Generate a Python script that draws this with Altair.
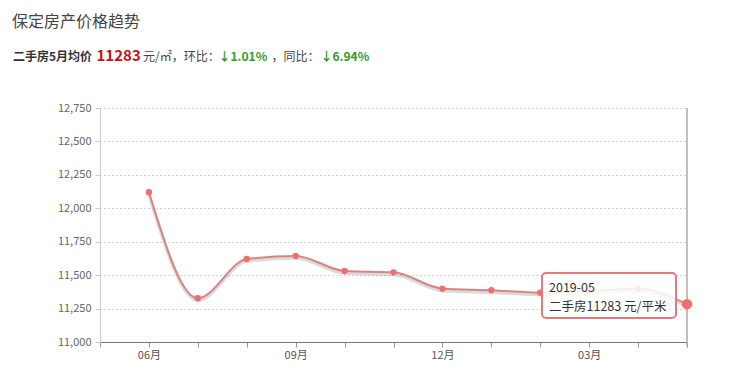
import json
import altair as alt
import pandas as pd

# ---- data ----
months = ["2018-06", "2018-07", "2018-08", "2018-09", "2018-10", "2018-11",
          "2018-12", "2019-01", "2019-02", "2019-03", "2019-04", "2019-05"]
prices = [12120, 11327, 11621, 11643, 11531, 11521, 11399, 11387, 11369, 11380, 11398, 11283]
x_tick_labels = ["", "06月", "", "", "09月", "", "", "12月", "", "", "03月", "", ""]
y_ticks = [11000, 11250, 11500, 11750, 12000, 12250, 12500, 12750]

title_text = "保定房产价格趋势"
header_parts = ["二手房5月均价", "11283", "元/㎡，环比：", "↓1.01%", "，同比：", "↓6.94%"]

df = pd.DataFrame({"month": months, "price": prices, "idx": list(range(1, len(months) + 1))})
last = df.tail(1)

FONT = "Noto Sans CJK SC"
W, H = 587, 234

label_expr = json.dumps(x_tick_labels, ensure_ascii=False) + "[datum.value]"

x_enc = alt.X(
    "idx:Q",
    scale=alt.Scale(domain=[0, len(months)], nice=False, zero=False),
    axis=alt.Axis(values=list(range(len(x_tick_labels))), labelExpr=label_expr, title=None,
                  grid=False, domainColor="#777", tickColor="#999", tickSize=5,
                  labelColor="#555", labelFontSize=11, labelFont=FONT, labelPadding=2,
                  labelFlush=False),
)
y_enc = alt.Y(
    "price:Q",
    scale=alt.Scale(domain=[y_ticks[0], y_ticks[-1]], nice=False, zero=False),
    axis=alt.Axis(values=y_ticks, format=",.0f", title=None, grid=True, gridDash=[1, 3],
                  gridColor="#aaa", domainColor="#ccc", tickColor="#ccc", tickSize=5,
                  labelColor="#666", labelFontSize=11, labelFont=FONT, labelPadding=4),
)

base = alt.Chart(df).encode(x=x_enc, y=y_enc)

shadow = base.mark_line(interpolate="monotone", color="#888", opacity=0.3, strokeWidth=3.5, yOffset=2)
line = base.mark_line(interpolate="monotone", color="#dd8282", strokeWidth=2)
pts = base.mark_point(filled=True, size=40, color="#f26d6d", opacity=1)

pointer = alt.Chart(last).mark_rule(color="#aaa", strokeWidth=1.5).encode(
    x=x_enc, y=alt.value(0), y2=alt.value(H + 4))

last_pt = alt.Chart(last).mark_point(filled=True, size=110, color="#f26d6d", opacity=1).encode(
    x=x_enc, y=y_enc)

tip_box = alt.Chart(last).mark_rect(
    cornerRadius=4, fill="white", fillOpacity=0.85, stroke="#e8787c", strokeWidth=2
).encode(x=alt.value(442), x2=alt.value(576), y=alt.value(165), y2=alt.value(210))

tip1 = alt.Chart(last).mark_text(align="left", baseline="alphabetic", font=FONT, fontSize=12.5,
                                 color="#333").encode(
    x=alt.value(449), y=alt.value(184), text="month:N")
tip_df = pd.DataFrame({"t": ["二手房" + str(prices[-1]) + " 元/平米"]})
tip2 = alt.Chart(tip_df).mark_text(align="left", baseline="alphabetic", font=FONT, fontSize=12.5,
                                   color="#333").encode(
    x=alt.value(449), y=alt.value(203), text="t:N")


def txt(s, x, y, size, color, weight="normal"):
    return alt.Chart(pd.DataFrame({"t": [s]})).mark_text(
        align="left", baseline="alphabetic", font=FONT, fontSize=size, color=color,
        fontWeight=weight).encode(x=alt.value(x), y=alt.value(y), text="t:N")


title = txt(title_text, -88, -81, 16, "#444")
hy = -47.5
GRAY, GREEN = "#444", "#2f9a2a"
h = [
    txt(header_parts[0], -87, hy, 12, "#333", "bold"),
    txt(header_parts[1], -3.5, hy, 15, "#c0141c", "bold"),
    txt(header_parts[2], 43, hy, 12, GRAY),
    txt(header_parts[3], 118.5, hy, 12, GREEN, "bold"),
    txt(header_parts[4], 171.5, hy, 12, GRAY),
    txt(header_parts[5], 220.5, hy, 12, GREEN, "bold"),
]

chart = alt.layer(pointer, shadow, line, pts, last_pt, tip_box, tip1, tip2, title, *h).properties(
    width=W, height=H,
    autosize=alt.AutoSizeParams(type="none"),
    padding={"left": 92, "top": 100, "right": 30, "bottom": 40},
).configure_view(stroke=None)

chart.save("out.html", embed_options={"renderer": "svg", "actions": False})
